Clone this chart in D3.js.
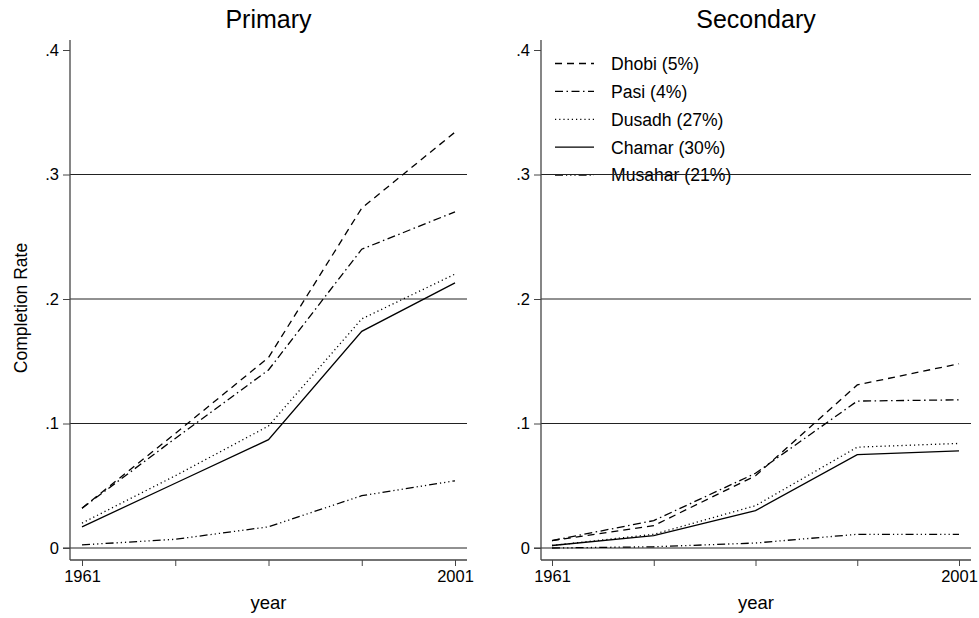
<!DOCTYPE html>
<html><head><meta charset="utf-8">
<script src="https://cdn.jsdelivr.net/npm/d3@7"></script>
<style>body{margin:0;background:#fff}svg{display:block;font-family:"Liberation Sans",Arial,Helvetica,sans-serif}</style>
</head><body>
<svg id="c" width="979" height="618"></svg>
<script>
const years = [1961, 1971, 1981, 1991, 2001];
const groups = ["Dhobi (5%)", "Pasi (4%)", "Dusadh (27%)", "Chamar (30%)", "Musahar (21%)"];
const primaryDhobi   = [0.032, 0.092, 0.153, 0.273, 0.334];
const primaryPasi    = [0.032, 0.088, 0.143, 0.240, 0.270];
const primaryDusadh  = [0.020, 0.058, 0.098, 0.184, 0.220];
const primaryChamar  = [0.017, 0.052, 0.087, 0.174, 0.213];
const primaryMusahar = [0.0025, 0.007, 0.017, 0.042, 0.054];
const secondaryDhobi   = [0.006, 0.018, 0.058, 0.131, 0.148];
const secondaryPasi    = [0.006, 0.022, 0.060, 0.118, 0.119];
const secondaryDusadh  = [0.002, 0.011, 0.034, 0.081, 0.084];
const secondaryChamar  = [0.002, 0.010, 0.030, 0.075, 0.078];
const secondaryMusahar = [0.000, 0.001, 0.004, 0.011, 0.011];
const yTicks = [0, 0.1, 0.2, 0.3, 0.4];
const yTickLabels = ["0", ".1", ".2", ".3", ".4"];
const xTickLabels = {1961: "1961", 2001: "2001"};
const panelTitles = ["Primary", "Secondary"];

const dashes = ["7,5", "8,3.5,1.5,3.5", "1.2,3", null, "8,3,1.2,3,1.2,3,1.2,3"];

const svg = d3.select("#c");
const panels = [
  {title: panelTitles[0], series: [primaryDhobi, primaryPasi, primaryDusadh, primaryChamar, primaryMusahar], left: 70, right: 467, xr: [82, 455], legend: false},
  {title: panelTitles[1], series: [secondaryDhobi, secondaryPasi, secondaryDusadh, secondaryChamar, secondaryMusahar], left: 541, right: 971, xr: [552, 959], legend: true}
];
const y = d3.scaleLinear().domain([0, 0.4]).range([548, 50]);
const axTop = 40, axBottom = 560;

panels.forEach(p => {
  const g = svg.append("g");
  const x = d3.scaleLinear().domain([1961, 2001]).range(p.xr);
  g.append("text").attr("x", (p.left + p.right) / 2).attr("y", 28).attr("text-anchor", "middle")
    .attr("font-size", 25).text(p.title);
  if (p.legend) {
    const lg = g.append("g");
    groups.forEach((name, i) => {
      const yy = 63.5 + i * 27.9;
      lg.append("line").attr("x1", 555).attr("x2", 594).attr("y1", yy).attr("y2", yy)
        .attr("stroke", "#000").attr("stroke-width", 1.3).attr("stroke-dasharray", dashes[i]);
      lg.append("text").attr("x", 611).attr("y", yy).attr("dy", "0.36em").attr("font-size", 17.6).text(name);
    });
  }
  g.selectAll(".grid").data(yTicks.slice(0, 4)).join("line")
    .attr("x1", d => d === 0 ? p.left - 7 : p.left).attr("x2", p.right)
    .attr("y1", d => y(d)).attr("y2", d => y(d))
    .attr("stroke", "#222").attr("stroke-width", 1);
  const ya = d3.axisLeft(y).tickValues(yTicks).tickFormat((d, i) => yTickLabels[i]).tickSize(7).tickPadding(4);
  const yg = g.append("g").attr("transform", `translate(${p.left},0)`).call(ya);
  yg.select(".domain").remove();
  yg.append("line").attr("x1", 0).attr("x2", 0).attr("y1", axTop).attr("y2", axBottom).attr("stroke", "#444").attr("stroke-width", 1.3);
  yg.selectAll(".tick line").attr("stroke", "#444");
  yg.selectAll(".tick text").attr("font-size", 16.5).attr("fill", "#000").attr("font-family", null);
  const xa = d3.axisBottom(x).tickValues(years).tickFormat(d => xTickLabels[d] || "").tickSize(6).tickPadding(4);
  const xg = g.append("g").attr("transform", `translate(0,${axBottom})`).call(xa);
  xg.select(".domain").remove();
  xg.append("line").attr("x1", p.left).attr("x2", p.right).attr("y1", 0).attr("y2", 0).attr("stroke", "#444").attr("stroke-width", 1.3);
  xg.selectAll(".tick line").attr("stroke", "#444");
  xg.selectAll(".tick text").attr("font-size", 16.5).attr("fill", "#000").attr("font-family", null);
  g.append("text").attr("x", (p.left + p.right) / 2).attr("y", 609).attr("text-anchor", "middle").attr("font-size", 18.5).text("year");
  const line = d3.line().x((d, i) => x(years[i])).y(d => y(d));
  p.series.forEach((s, i) => {
    g.append("path").datum(s).attr("d", line).attr("fill", "none").attr("stroke", "#000")
      .attr("stroke-width", 1.3).attr("stroke-dasharray", dashes[i]);
  });
});
svg.append("text").attr("transform", "translate(26.5,308) rotate(-90)").attr("text-anchor", "middle")
  .attr("font-size", 17.5).text("Completion Rate");
</script>
</body></html>
